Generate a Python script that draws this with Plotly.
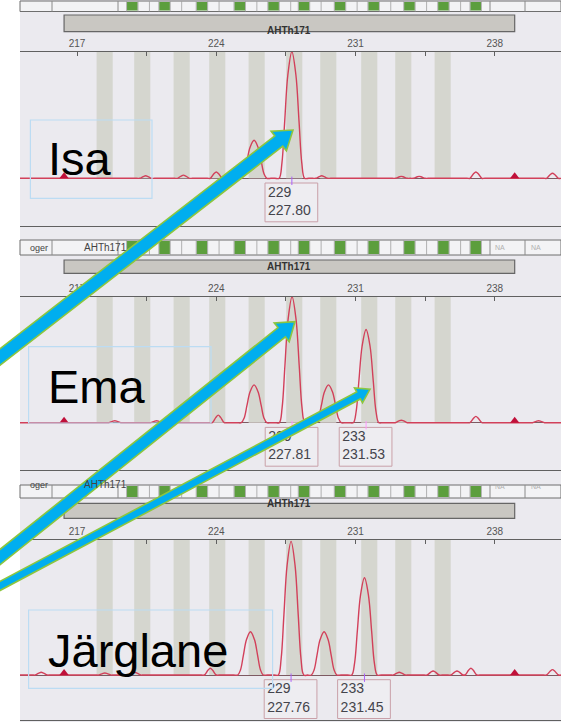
import numpy as np
import plotly.graph_objects as go

W, H = 561, 722
FONT = "Liberation Sans, Arial, sans-serif"

# ------------------------------------------------------------------ data
SAMPLES = ["Isa", "Ema", "Järglane"]
MARKER_NAME = "AHTh171"
ROW_LABEL = "oger"
NA_TEXT = ["NA", "NA"]

MAJOR_TICKS = [217, 224, 231, 238]
MAJOR_TICK_TEXT = ["217", "224", "231", "238"]
MINOR_TICKS = [220.5, 227.5, 234.5]

BIN_BP = [218.39, 220.28, 222.26, 224.05, 226.03, 227.92, 229.63, 231.69, 233.40, 235.38]
BIN_HEIGHT = [100, 100, 100, 100, 100, 100, 100, 100, 100, 100]
GREEN_BP = [219.78, 221.40, 223.28, 225.18, 226.88, 228.41, 230.22, 231.91, 233.71, 235.42, 237.04]
MARKER_RANGE_BP = [216.35, 239.00]

ISA_PEAK_BP = [225.90, 227.80]
ISA_PEAK_H = [30, 100]
ISA_NOISE_BP = [220.45, 222.35, 224.00, 229.30, 233.30, 234.20, 237.05, 240.90]
ISA_NOISE_H = [2, 2.5, 5, 2, 1.5, 1.5, 5, 4]
ISA_CALL_ALLELE = ["229"]
ISA_CALL_SIZE = [227.80]

EMA_PEAK_BP = [225.90, 227.81, 229.64, 231.53]
EMA_PEAK_H = [30, 100, 30, 74]
EMA_NOISE_BP = [218.90, 221.00, 224.10, 233.30, 237.05, 240.20]
EMA_NOISE_H = [1.5, 1.5, 6, 2, 5, 1.5]
EMA_CALL_ALLELE = ["229", "233"]
EMA_CALL_SIZE = [227.81, 231.53]

JAR_PEAK_BP = [225.72, 227.76, 229.42, 231.45]
JAR_PEAK_H = [32, 99, 32, 72]
JAR_NOISE_BP = [215.20, 218.40, 219.90, 223.70, 233.20, 234.90, 236.10, 236.80, 240.90]
JAR_NOISE_H = [2, 1.5, 2, 5, 2, 3, 3, 5, 4]
JAR_CALL_ALLELE = ["229", "233"]
JAR_CALL_SIZE = [227.76, 231.45]

PEAK_PROFILE_DX = [-0.85, -0.64, -0.5, -0.36, -0.2, 0.0, 0.2, 0.36, 0.5, 0.64, 0.85]
PEAK_PROFILE_REL = [0, 0, 0.12, 0.45, 0.82, 1.0, 0.82, 0.45, 0.12, 0, 0]
NOISE_PROFILE_DX = [-0.45, -0.3, -0.12, 0.0, 0.12, 0.3, 0.45]
NOISE_PROFILE_REL = [0, 0, 0.7, 1.0, 0.7, 0, 0]

PANELS = [
    dict(peak_bp=ISA_PEAK_BP, peak_h=ISA_PEAK_H, noise_bp=ISA_NOISE_BP, noise_h=ISA_NOISE_H,
         allele=ISA_CALL_ALLELE, size=ISA_CALL_SIZE, row_text=False),
    dict(peak_bp=EMA_PEAK_BP, peak_h=EMA_PEAK_H, noise_bp=EMA_NOISE_BP, noise_h=EMA_NOISE_H,
         allele=EMA_CALL_ALLELE, size=EMA_CALL_SIZE, row_text=True),
    dict(peak_bp=JAR_PEAK_BP, peak_h=JAR_PEAK_H, noise_bp=JAR_NOISE_BP, noise_h=JAR_NOISE_H,
         allele=JAR_CALL_ALLELE, size=JAR_CALL_SIZE, row_text=True),
]

# ------------------------------------------------------------------ layout geometry (pixels)
PX_217 = 77.0
PX_PER_BP = 19.895
PHOTO_LEFT = 20.0


def px_to_bp(px):
    return 217 + (px - PX_217) / PX_PER_BP


X_RANGE = [px_to_bp(PHOTO_LEFT), px_to_bp(W)]

AXIS_PX = [51.7, 296.7, 540.0]
BASE_PX = [178.3, 422.7, 675.0]
BOTTOM_PX = [226.0, 470.0, 720.0]
ROW_PX = [(1.0, 11.5), (240.0, 255.0), (485.0, 498.0)]
BAR_PX = [(15.0, 31.7), (260.0, 273.3), (503.3, 518.3)]
NAME_BOX_PX = [(30.4, 120.0, 152.0, 198.3), (28.6, 346.7, 211.0, 423.0), (28.6, 610.0, 272.6, 688.3)]
NAME_MID_PX = [158.3, 386.7, 650.0]
ROW_TEXT_PX = [28, 82, 507, 543]

ARROWS = [  # tail, tip, shaft width, head width, head length (px)
    ((-20, 372.5), (293, 130), 13, 25, 18),
    ((-20, 573.0), (295, 321.7), 12, 24, 17),
    ((-20, 596.6), (370, 389.3), 8, 17, 13),
]

BG = "#ebeaef"
BIN_COLOR = "#d5d6cf"
TRACE_COLOR = "#d2405a"
GREEN = "#5c9e3d"


def yp(py):
    return 1 - py / H


def build_curve(peak_bp, peak_h, noise_bp, noise_h):
    feats = [(c, h, PEAK_PROFILE_DX, PEAK_PROFILE_REL) for c, h in zip(peak_bp, peak_h)]
    feats += [(c, h, NOISE_PROFILE_DX, NOISE_PROFILE_REL) for c, h in zip(noise_bp, noise_h)]
    feats.sort(key=lambda f: f[0])
    xs, ys = [X_RANGE[0]], [0.0]
    for c, h, dx, rel in feats:
        xs += [c + d for d in dx]
        ys += [h * r for r in rel]
    xs.append(X_RANGE[1])
    ys.append(0.0)
    return xs, ys


fig = go.Figure()
shapes = []
annotations = []
layout_axes = {}

shapes.append(dict(type="rect", xref="paper", yref="paper", x0=PHOTO_LEFT / W, x1=1, y0=0, y1=1,
                   fillcolor=BG, line=dict(width=0), layer="below"))

for i, pdata in enumerate(PANELS):
    s = "" if i == 0 else str(i + 1)
    xa, ya = "x" + s, "y" + s
    axis_px, base_px, bot_px = AXIS_PX[i], BASE_PX[i], BOTTOM_PX[i]
    ppu = (base_px - axis_px) / 100.0
    ymin = -(bot_px - base_px) / ppu

    def yd(py, base_px=base_px, ppu=ppu):
        return (base_px - py) / ppu

    layout_axes["xaxis" + s] = dict(
        domain=[PHOTO_LEFT / W, 1], range=X_RANGE, anchor=ya, side="top",
        showline=True, linecolor="#606060", linewidth=1.2, mirror=True,
        ticks="inside", ticklen=4, tickwidth=1, tickcolor="#606060",
        tickvals=MAJOR_TICKS, ticktext=MAJOR_TICK_TEXT,
        tickfont=dict(family=FONT, size=10, color="#555"),
        minor=dict(tickvals=MINOR_TICKS, ticks="inside", ticklen=4, tickcolor="#606060", showgrid=False),
        showgrid=False, zeroline=False, fixedrange=True,
    )
    layout_axes["yaxis" + s] = dict(
        domain=[yp(bot_px), yp(axis_px)], range=[ymin, 100], anchor=xa,
        showticklabels=False, ticks="", showgrid=False, showline=False,
        zeroline=True, zerolinecolor="#7d5a62", zerolinewidth=1.4, fixedrange=True,
    )

    # allele bins
    fig.add_trace(go.Bar(x=BIN_BP, y=BIN_HEIGHT, width=0.81, base=0, xaxis=xa, yaxis=ya,
                         marker=dict(color=BIN_COLOR, line=dict(width=0)), hoverinfo="skip"))
    # electropherogram trace
    cx, cy = build_curve(pdata["peak_bp"], pdata["peak_h"], pdata["noise_bp"], pdata["noise_h"])
    fig.add_trace(go.Scatter(x=cx, y=cy, mode="lines", xaxis=xa, yaxis=ya,
                             line=dict(color=TRACE_COLOR, width=1.4, shape="spline", smoothing=1.0),
                             hoverinfo="skip"))
    # range marker triangles
    fig.add_trace(go.Scatter(x=MARKER_RANGE_BP, y=[2.0 / ppu] * 2, mode="markers", xaxis=xa, yaxis=ya,
                             marker=dict(symbol="triangle-up", size=8, color="#c0103a"),
                             hoverinfo="skip"))
    # small ticks under called peaks
    fig.add_trace(go.Scatter(x=pdata["size"], y=[-2.0] * len(pdata["size"]), mode="markers",
                             xaxis=xa, yaxis=ya,
                             marker=dict(symbol="line-ns-open", size=6, line=dict(color="#777", width=1)),
                             hoverinfo="skip"))
    # allele call labels
    box_top, box_bot = yd(base_px + 4.7), yd(base_px + 43.5)
    for a, sz in zip(pdata["allele"], pdata["size"]):
        shapes.append(dict(type="rect", xref=xa, yref=ya, x0=sz - 1.35, x1=sz + 1.3,
                           y0=box_bot, y1=box_top, fillcolor="#eeedf1",
                           line=dict(color="#c9a0a8", width=1), layer="below"))
    fig.add_trace(go.Scatter(
        x=[sz - 1.2 for sz in pdata["size"]], y=[(box_top + box_bot) / 2] * len(pdata["size"]),
        text=[f"{a}<br>{sz:.2f}" for a, sz in zip(pdata["allele"], pdata["size"])],
        mode="text", textposition="middle right", xaxis=xa, yaxis=ya,
        textfont=dict(family=FONT, size=14, color="#44444c"), hoverinfo="skip"))

    # ---- header row with bin check boxes
    r0, r1 = ROW_PX[i]
    shapes.append(dict(type="rect", xref="paper", yref="paper", x0=PHOTO_LEFT / W, x1=1,
                       y0=yp(r1), y1=yp(r0), fillcolor="#f3f3f5",
                       line=dict(color="#6e6e6e", width=1), layer="below"))
    for sp in [52, 118, 490, 525]:
        shapes.append(dict(type="line", xref="paper", yref="paper", x0=sp / W, x1=sp / W,
                           y0=yp(r1), y1=yp(r0), line=dict(color="#8a8a8a", width=1), layer="below"))
    last_edge = px_to_bp(490)
    for c in GREEN_BP:
        shapes.append(dict(type="rect", xref=xa, yref="paper", x0=c - 0.27, x1=c + 0.27,
                           y0=yp(r1 - 1), y1=yp(r0 + 1), fillcolor=GREEN, line=dict(width=0),
                           layer="below"))
        for e in (c - 0.287, c + 0.287, c + 0.861):
            if e < last_edge:
                shapes.append(dict(type="line", xref=xa, yref="paper", x0=e, x1=e,
                                   y0=yp(r1), y1=yp(r0), line=dict(color="#a0a0a0", width=0.8),
                                   layer="below"))
    if pdata["row_text"]:
        row_mid = yp((r0 + r1) / 2)
        texts = [ROW_LABEL, MARKER_NAME] + NA_TEXT
        sizes = [9, 10, 7, 7]
        colors = ["#444", "#444", "#b0b0b0", "#b0b0b0"]
        for tx, t, fs, col in zip(ROW_TEXT_PX, texts, sizes, colors):
            annotations.append(dict(xref="paper", yref="paper", x=tx / W, y=row_mid, text=t,
                                    showarrow=False, font=dict(family=FONT, size=fs, color=col)))

    # ---- marker range bar
    b0, b1 = BAR_PX[i]
    shapes.append(dict(type="rect", xref=xa, yref="paper", x0=MARKER_RANGE_BP[0], x1=MARKER_RANGE_BP[1],
                       y0=yp(b1), y1=yp(b0), fillcolor="#c9c7c2",
                       line=dict(color="#666", width=1.2), layer="below"))
    annotations.append(dict(xref=xa, yref="paper", x=sum(MARKER_RANGE_BP) / 2, y=yp((b0 + b1) / 2),
                            text=f"<b>{MARKER_NAME}</b>", showarrow=False,
                            font=dict(family=FONT, size=10, color="#333")))

    # ---- sample name box and label
    bx0, by0, bx1, by1 = NAME_BOX_PX[i]
    shapes.append(dict(type="rect", xref="paper", yref="paper", x0=bx0 / W, x1=bx1 / W,
                       y0=yp(by1), y1=yp(by0), line=dict(color="#bcdcf3", width=1.2),
                       fillcolor="rgba(0,0,0,0)", layer="above"))
    annotations.append(dict(xref="paper", yref="paper", x=46 / W, y=yp(NAME_MID_PX[i]),
                            xanchor="left", yanchor="middle", text=SAMPLES[i], showarrow=False,
                            font=dict(family=FONT, size=47, color="#000")))

# ---- arrows (drawn on top)
for tail, tip, w, hw, hl in ARROWS:
    T = np.array(tail, float)
    P = np.array(tip, float)
    u = (P - T) / np.linalg.norm(P - T)
    n = np.array([-u[1], u[0]])
    B = P - hl * u
    pts = [T + n * w / 2, B + n * w / 2, B + n * hw / 2, P, B - n * hw / 2, B - n * w / 2, T - n * w / 2]
    path = "M " + " L ".join(f"{x / W:.5f},{1 - y / H:.5f}" for x, y in pts) + " Z"
    shapes.append(dict(type="path", xref="paper", yref="paper", path=path,
                       fillcolor="#00aeef", line=dict(color="#8cc63f", width=1.6), layer="above"))

fig.update_layout(
    width=W, height=H, margin=dict(l=0, r=0, t=0, b=0),
    paper_bgcolor="#ffffff", plot_bgcolor="rgba(0,0,0,0)",
    showlegend=False, barmode="overlay",
    shapes=shapes, annotations=annotations,
    font=dict(family=FONT),
    **layout_axes,
)

fig.write_html("out.html", config={"displayModeBar": False},
               post_script="document.body.style.margin='0';document.body.style.overflow='hidden';")
